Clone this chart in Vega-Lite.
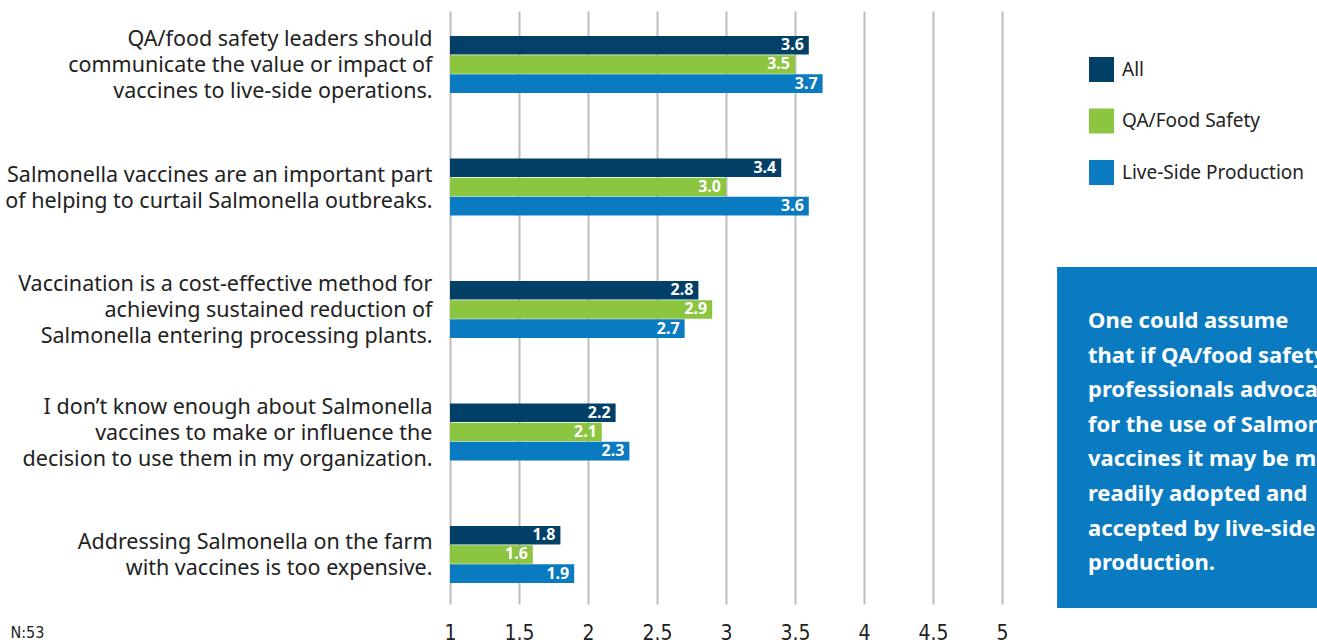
{
  "$schema": "https://vega.github.io/schema/vega-lite/v6.json",
  "width": 867,
  "height": 593,
  "autosize": {"type": "none"},
  "padding": {"left": 450, "top": 11, "right": 0, "bottom": 36},
  "background": "white",
  "config": {"view": {"stroke": null}, "font": "Noto Sans"},
  "data": {
    "values": [
      {"statement": "QA/food safety leaders should|communicate the value or impact of|vaccines to live-side operations.", "group": "All", "value": 3.6},
      {"statement": "QA/food safety leaders should|communicate the value or impact of|vaccines to live-side operations.", "group": "QA/Food Safety", "value": 3.5},
      {"statement": "QA/food safety leaders should|communicate the value or impact of|vaccines to live-side operations.", "group": "Live-Side Production", "value": 3.7},
      {"statement": "Salmonella vaccines are an important part|of helping to curtail Salmonella outbreaks.", "group": "All", "value": 3.4},
      {"statement": "Salmonella vaccines are an important part|of helping to curtail Salmonella outbreaks.", "group": "QA/Food Safety", "value": 3.0},
      {"statement": "Salmonella vaccines are an important part|of helping to curtail Salmonella outbreaks.", "group": "Live-Side Production", "value": 3.6},
      {"statement": "Vaccination is a cost-effective method for|achieving sustained reduction of|Salmonella entering processing plants.", "group": "All", "value": 2.8},
      {"statement": "Vaccination is a cost-effective method for|achieving sustained reduction of|Salmonella entering processing plants.", "group": "QA/Food Safety", "value": 2.9},
      {"statement": "Vaccination is a cost-effective method for|achieving sustained reduction of|Salmonella entering processing plants.", "group": "Live-Side Production", "value": 2.7},
      {"statement": "I don’t know enough about Salmonella|vaccines to make or influence the|decision to use them in my organization.", "group": "All", "value": 2.2},
      {"statement": "I don’t know enough about Salmonella|vaccines to make or influence the|decision to use them in my organization.", "group": "QA/Food Safety", "value": 2.1},
      {"statement": "I don’t know enough about Salmonella|vaccines to make or influence the|decision to use them in my organization.", "group": "Live-Side Production", "value": 2.3},
      {"statement": "Addressing Salmonella on the farm|with vaccines is too expensive.", "group": "All", "value": 1.8},
      {"statement": "Addressing Salmonella on the farm|with vaccines is too expensive.", "group": "QA/Food Safety", "value": 1.6},
      {"statement": "Addressing Salmonella on the farm|with vaccines is too expensive.", "group": "Live-Side Production", "value": 1.9}
    ]
  },
  "layer": [
    {
      "mark": {"type": "bar"},
      "encoding": {
        "y": {
          "field": "statement",
          "type": "nominal",
          "sort": null,
          "scale": {"paddingInner": 0.5347, "paddingOuter": 0.1878, "align": 0.543},
          "axis": {
            "title": null,
            "domain": false,
            "ticks": false,
            "labelPadding": 18,
            "labelFont": "Noto Sans",
            "labelFontSize": 21.5,
            "labelColor": "#222222",
            "labelLimit": 600,
            "labelLineHeight": 26,
            "labelOffset": {"condition": {"test": "length(split(datum.value, '|')) == 2", "value": -11}, "value": -24},
            "labelExpr": "split(datum.value, '|')"
          }
        },
        "yOffset": {
          "field": "group",
          "type": "nominal",
          "sort": ["All", "QA/Food Safety", "Live-Side Production"],
          "scale": {"paddingInner": 0.03, "paddingOuter": 0}
        },
        "x": {
          "field": "value",
          "type": "quantitative",
          "scale": {"domain": [1, 7.2826], "nice": false, "zero": false},
          "axis": {
            "values": [1, 1.5, 2, 2.5, 3, 3.5, 4, 4.5, 5],
            "format": "~g",
            "grid": true,
            "gridColor": "#bdbdbd",
            "gridWidth": 2,
            "domain": false,
            "ticks": false,
            "labelFont": "DejaVu Sans Condensed, Roboto Condensed, Roboto, sans-serif",
            "labelFontSize": 21,
            "labelColor": "#222222",
            "labelPadding": 18,
            "labelFlush": false,
            "labelOverlap": false,
            "title": "N:53",
            "titleX": -440,
            "titleY": 28,
            "titleAlign": "left",
            "titleBaseline": "middle",
            "titleFont": "DejaVu Sans Condensed, Roboto Condensed, Roboto, sans-serif",
            "titleFontSize": 16,
            "titleFontWeight": "normal",
            "titleColor": "#222222"
          }
        },
        "x2": {"datum": 1},
        "color": {
          "field": "group",
          "type": "nominal",
          "scale": {
            "domain": ["All", "QA/Food Safety", "Live-Side Production"],
            "range": ["#024068", "#8cc540", "#0a7bc1"]
          },
          "legend": {
            "orient": "none",
            "legendX": 639,
            "legendY": 46,
            "title": null,
            "padding": 0,
            "symbolType": "square",
            "symbolSize": 625,
            "symbolStrokeWidth": 0,
            "symbolOpacity": 1,
            "labelFont": "Noto Sans",
            "labelFontSize": 19,
            "labelColor": "#222222",
            "labelLimit": 400,
            "labelOffset": 8,
            "rowPadding": 26.5
          }
        }
      }
    },
    {
      "mark": {"type": "text", "align": "right", "baseline": "middle", "dx": -5, "color": "white", "fontWeight": "bold", "fontSize": 16, "font": "Noto Sans"},
      "encoding": {
        "y": {"field": "statement", "type": "nominal", "sort": null},
        "yOffset": {"field": "group", "type": "nominal", "sort": ["All", "QA/Food Safety", "Live-Side Production"]},
        "x": {"field": "value", "type": "quantitative"},
        "text": {"field": "value", "type": "quantitative", "format": ".1f"}
      }
    },
    {
      "data": {"values": [{}]},
      "mark": {"type": "rect", "color": "#0a7bc1"},
      "encoding": {
        "x": {"datum": 5.399, "type": "quantitative"},
        "x2": {"datum": 7.4},
        "y": {"datum": "Vaccination is a cost-effective method for|achieving sustained reduction of|Salmonella entering processing plants.", "type": "nominal", "bandPosition": -0.2456},
        "y2": {"datum": "Vaccination is a cost-effective method for|achieving sustained reduction of|Salmonella entering processing plants.", "bandPosition": 5.737}
      }
    },
    {
      "data": {"values": [{}]},
      "mark": {
        "type": "text",
        "align": "left",
        "baseline": "alphabetic",
        "color": "white",
        "font": "Noto Sans",
        "fontWeight": "bold",
        "fontSize": 22,
        "lineHeight": 34.6,
        "text": ["One could assume", "that if QA/food safety", "professionals advocate", "for the use of Salmonella", "vaccines it may be more", "readily adopted and", "accepted by live-side", "production."]
      },
      "encoding": {
        "x": {"datum": 5.623, "type": "quantitative"},
        "y": {"datum": "Vaccination is a cost-effective method for|achieving sustained reduction of|Salmonella entering processing plants.", "type": "nominal", "bandPosition": 0.8246}
      }
    }
  ]
}
